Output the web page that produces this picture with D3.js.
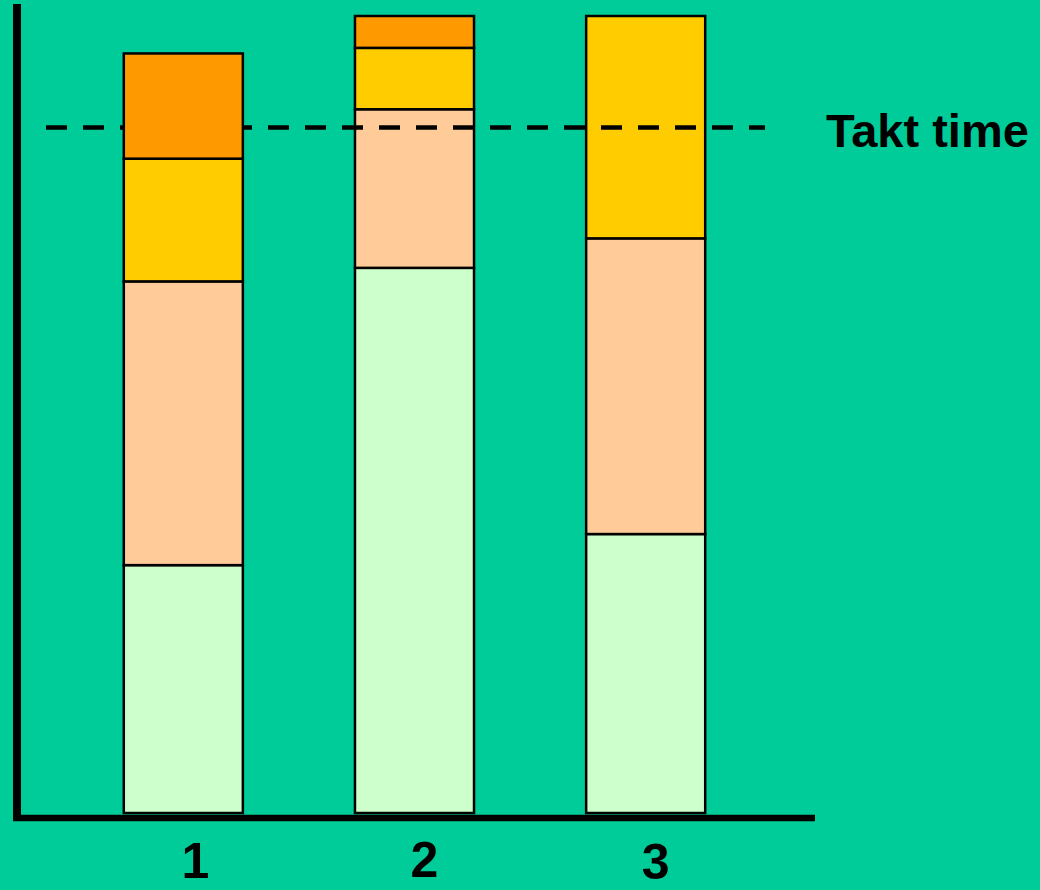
<!DOCTYPE html>
<html lang="en">
    <head>
        <meta charset="utf-8">
        <title>Takt time</title>
        <script type="text/javascript" src="https://cdn.jsdelivr.net/npm/d3@7"></script>
        <style>
            body {
                margin: 0;
                background: #00cc99;
            }
            text {
                font-family: "Liberation Sans", Arial, sans-serif;
                font-weight: bold;
                fill: black;
            }
        </style>
    </head>
    <body>
        <script type="text/javascript">
        // stacked work content per operator against takt time

        var w = 1040;
        var h = 890;

        var operators = ["1", "2", "3"];
        var segments = ["green", "peach", "yellow", "orange"];
        var green = [31.1, 68.4, 35.0];
        var peach = [35.6, 19.9, 37.1];
        var yellow = [15.4, 7.7, 27.9];
        var orange = [13.2, 4.0, 0];
        var taktTime = 86.0;

        var colors = {
            green: "#ccffcc",
            peach: "#ffcc99",
            yellow: "#ffcc00",
            orange: "#ff9900"
        };

        var rows = operators.map(function(op, i) {
            return {op: op, green: green[i], peach: peach[i], yellow: yellow[i], orange: orange[i]};
        });

        var x = d3.scaleBand()
                  .domain(operators)
                  .range([66, 763])
                  .paddingInner(0.485)
                  .paddingOuter(0.25);

        var y = d3.scaleLinear()
                  .domain([0, 100])
                  .range([813, 16]);

        var svg = d3.select("body")
                    .append("svg")
                    .attr("width", w)
                    .attr("height", h)
                    .style("display", "block");

        var stacked = d3.stack().keys(segments)(rows);

        // one group per bar so the first bar can sit above the takt line
        var bars = operators.map(function(op, i) {
            return stacked.map(function(layer) {
                return {key: layer.key, d: layer[i]};
            }).filter(function(s) { return s.d[1] - s.d[0] > 0; });
        });

        function drawBar(i) {
            svg.append("g")
                .selectAll("rect")
                .data(bars[i])
                .enter()
                .append("rect")
                .attr("x", x(operators[i]))
                .attr("width", x.bandwidth())
                .attr("y", function(s) { return y(s.d[1]); })
                .attr("height", function(s) { return y(s.d[0]) - y(s.d[1]); })
                .attr("fill", function(s) { return colors[s.key]; })
                .attr("stroke", "black")
                .attr("stroke-width", 2.5);
        }

        drawBar(1);
        drawBar(2);

        svg.append("line")
            .attr("x1", 46)
            .attr("x2", 765)
            .attr("y1", y(taktTime))
            .attr("y2", y(taktTime))
            .attr("stroke", "black")
            .attr("stroke-width", 4.5)
            .attr("stroke-dasharray", "21,16");

        drawBar(0);

        svg.append("text")
            .attr("x", 826)
            .attr("y", y(taktTime) + 19)
            .style("font-size", "47px")
            .text("Takt time");

        // axes
        svg.append("line")
            .attr("x1", 17)
            .attr("x2", 17)
            .attr("y1", 4)
            .attr("y2", 821)
            .attr("stroke", "black")
            .attr("stroke-width", 8);

        svg.append("line")
            .attr("x1", 13)
            .attr("x2", 815)
            .attr("y1", 818)
            .attr("y2", 818)
            .attr("stroke", "black")
            .attr("stroke-width", 6.5);

        var labelShift = [12, 10, 10];
        var labelBase = [878, 877, 879];

        svg.selectAll("text.op")
            .data(operators)
            .enter()
            .append("text")
            .attr("class", "op")
            .attr("text-anchor", "middle")
            .attr("x", function(d, i) { return x(d) + x.bandwidth() / 2 + labelShift[i]; })
            .attr("y", function(d, i) { return labelBase[i]; })
            .style("font-size", "50px")
            .text(function(d) { return d; });
        </script>
    </body>
</html>
